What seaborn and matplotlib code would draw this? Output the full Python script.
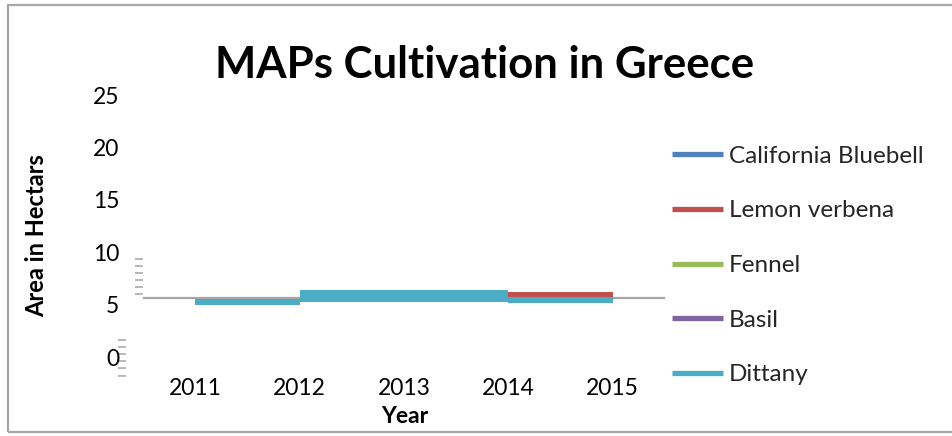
import numpy as np
import seaborn as sns
import matplotlib.pyplot as plt
from matplotlib.lines import Line2D
from matplotlib.patches import Rectangle

# Chart data
years = ["2011", "2012", "2013", "2014", "2015"]
series = ["California Bluebell", "Lemon verbena", "Fennel", "Basil", "Dittany"]
colors = ["#4F81BD", "#C0504D", "#9BBB59", "#8064A2", "#4BACC6"]

# Band edges per year (area in hectares), drawn as stepped areas
dittany_low = [5.00, 5.22, 5.22, 5.19, 5.19]
dittany_high = [5.58, 6.38, 6.38, 5.74, 5.74]
lemon_low = [np.nan, np.nan, np.nan, 5.74, 5.74]
lemon_high = [np.nan, np.nan, np.nan, 6.25, 6.25]

# Value where the horizontal axis crosses
axis_cross = 5.64
y_ticks = [0, 5, 10, 15, 20, 25]
upper_minor = [6.01, 6.68, 7.35, 8.02, 8.68, 9.35]
lower_minor = [-1.81, -1.05, -0.38, 0.29, 0.95, 1.62]

sns.set_theme(style="white")
plt.rcParams["font.family"] = ["Lato", "DejaVu Sans"]

W, H = 952, 436
fig = plt.figure(figsize=(W / 100, H / 100), dpi=100)
ax = fig.add_axes([143 / W, (H - 380) / H, 522 / W, 290 / H])

x = np.arange(len(years))
ax.axhline(axis_cross, color="#A6A6A6", lw=1.6, zorder=1)
ax.fill_between(x, dittany_low, dittany_high, step="post",
                color=colors[4], lw=0, zorder=2)
ax.fill_between(x, lemon_low, lemon_high, step="post",
                color=colors[1], lw=0, zorder=2)

ax.set_xlim(-0.5, 4.5)
ax.set_ylim(-2.19, 25.48)
ax.set_xticks(x, years)
ax.set_yticks(y_ticks)
for s in ax.spines.values():
    s.set_visible(False)
ax.tick_params(axis="both", which="major", length=0, labelsize=16.5,
               labelcolor="#000000")
ax.tick_params(axis="y", which="major", pad=17)
ax.tick_params(axis="x", which="major", pad=-1.5)
ax.set_yticks(upper_minor, minor=True)
ax.tick_params(axis="y", which="minor", left=True, direction="out",
               length=5.8, width=1.1, color="#A6A6A6")

sec = ax.secondary_yaxis(-0.0326)
sec.set_yticks([])
sec.set_yticks(lower_minor, minor=True)
for s in sec.spines.values():
    s.set_visible(False)
sec.tick_params(axis="y", which="minor", left=True, direction="out",
                length=5.8, width=1.1, color="#A6A6A6")

handles = [Line2D([], [], color=c, lw=3.8, solid_capstyle="butt") for c in colors]
ax.legend(handles, series, loc="center left",
          bbox_to_anchor=(672 / W, (H - 265.5) / H),
          bbox_transform=fig.transFigure, frameon=False, fontsize=17.5,
          handlelength=2.1, handletextpad=0.25, labelspacing=1.38,
          borderpad=0, borderaxespad=0)

fig.text(485 / W, (H - 65) / H, "MAPs Cultivation in Greece",
         ha="center", va="center", fontsize=31.5, fontweight="bold",
         color="#000000")
fig.text(37 / W, (H - 236) / H, "Area in Hectars", rotation=90,
         ha="center", va="center", fontsize=17, fontweight="bold",
         color="#000000")
fig.text(405 / W, (H - 416) / H, "Year", ha="center", va="center",
         fontsize=16.5, fontweight="bold", color="#000000")

fig.add_artist(Rectangle((8 / W, (H - 432) / H), (970 - 8) / W, (432 - 5) / H,
                         transform=fig.transFigure, fill=False,
                         edgecolor="#A6A6A6", lw=1.6))

fig.savefig("out.png", dpi=100)
